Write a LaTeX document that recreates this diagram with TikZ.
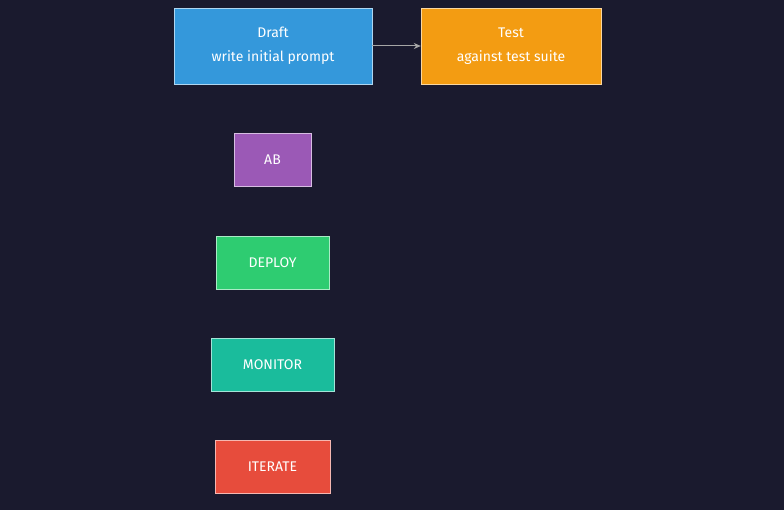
\documentclass[tikz,border=0pt]{standalone}
\usepackage{fontspec}
\setmainfont{Fira Sans}
\usetikzlibrary{arrows.meta}
\definecolor{bg}{HTML}{1A1A2E}
\definecolor{cb}{HTML}{3498DB}
\definecolor{co}{HTML}{F39C12}
\definecolor{cp}{HTML}{9B59B6}
\definecolor{cg}{HTML}{2ECC71}
\definecolor{ct}{HTML}{1ABC9C}
\definecolor{cr}{HTML}{E74C3C}
\begin{document}
\begin{tikzpicture}[x=1pt,y=-1pt,
  box/.style={draw=white!60!#1,fill=#1,text=white,inner sep=0pt,align=center,font=\fontsize{14}{24}\selectfont},
  ]
\fill[bg] (0,0) rectangle (784,510);
\useasboundingbox (0,0) rectangle (784,510);
\node[box=cb,minimum width=198pt,minimum height=76pt] (draft) at (273,46) {Draft\\write initial prompt};
\node[box=co,minimum width=180pt,minimum height=76pt] (test) at (511,46) {Test\\against test suite};
\node[box=cp,minimum width=77pt,minimum height=53pt] (ab) at (272.5,159.5) {AB};
\node[box=cg,minimum width=113pt,minimum height=53pt] (deploy) at (272.5,262.5) {DEPLOY};
\node[box=ct,minimum width=123pt,minimum height=53pt] (monitor) at (272.5,364.5) {MONITOR};
\node[box=cr,minimum width=115pt,minimum height=53pt] (iterate) at (272.5,466.5) {ITERATE};
\draw[draw=gray!70,line width=1pt,-{Stealth[length=7pt,width=6pt]}] (draft) -- (test);
\end{tikzpicture}
\end{document}
